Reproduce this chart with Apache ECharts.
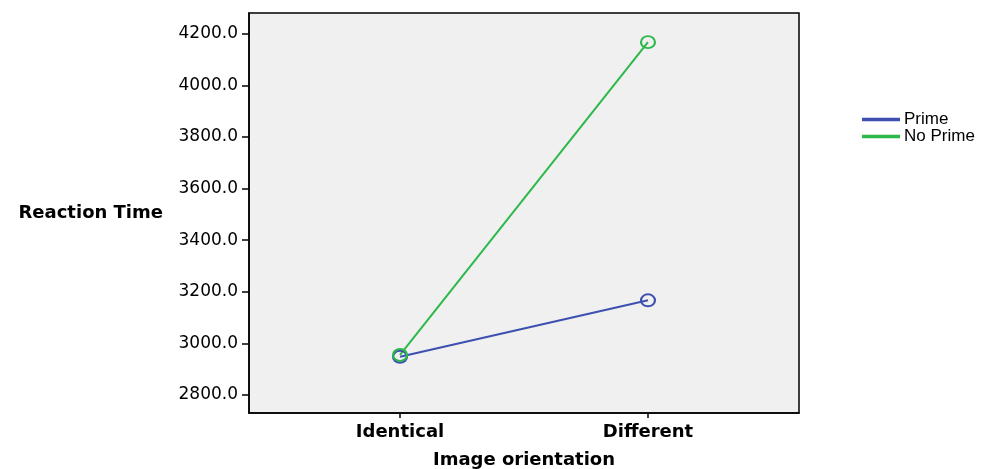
<!DOCTYPE html>
<html>
<head>
<meta charset="utf-8">
<script src="https://cdn.jsdelivr.net/npm/echarts@6/dist/echarts.min.js"></script>
<style>
  html, body { margin: 0; padding: 0; background: #fff; }
  #chart { width: 984px; height: 469px; }
</style>
</head>
<body>
<div id="chart"></div>
<script>
// categories on the x axis
const orientations = ['Identical', 'Different']
// mean reaction time per series
const primeData = [2948, 3167]
const noPrimeData = [2955, 4168]
// y tick labels
const yTicks = [2800, 3000, 3200, 3400, 3600, 3800, 4000, 4200]

const blue = '#3d50b0'
const green = '#2db84a'

const chart = echarts.init(document.getElementById('chart'))

const toPairs = arr => arr.map((v, i) => [i, v])

const option = {
  animation: false,
  grid: {
    left: 249, top: 13, right: 185, bottom: 56,
    outerBoundsMode: 'none',
    show: true,
    backgroundColor: '#f0f0f0',
    borderColor: '#000',
    borderWidth: 1.5
  },
  legend: {
    orient: 'vertical',
    left: 857,
    top: 106,
    itemWidth: 36,
    itemHeight: 1.5,
    itemGap: 0,
    textStyle: { fontFamily: 'Liberation Sans', fontSize: 17, lineHeight: 15, color: '#000' },
    data: [
      { name: 'Prime', icon: 'rect', itemStyle: { color: blue } },
      { name: 'No Prime', icon: 'rect', itemStyle: { color: green } }
    ]
  },
  xAxis: {
    type: 'value',
    min: -0.609,
    max: 1.609,
    name: 'Image orientation',
    nameLocation: 'middle',
    nameGap: 38,
    nameTextStyle: { fontFamily: 'DejaVu Sans', fontWeight: 'bold', fontSize: 18, color: '#000' },
    axisLine: { show: true, onZero: false, lineStyle: { color: '#000', width: 1.5 } },
    axisTick: { show: true, length: 5, customValues: [0, 1], lineStyle: { color: '#000', width: 1.5 } },
    axisLabel: {
      customValues: [0, 1],
      formatter: v => orientations[Math.round(v)],
      margin: 10,
      fontFamily: 'DejaVu Sans', fontWeight: 'bold', fontSize: 18, color: '#000'
    },
    splitLine: { show: false }
  },
  yAxis: {
    type: 'value',
    min: 2730,
    max: 4281,
    name: 'Reaction Time',
    nameLocation: 'middle',
    nameRotate: 0,
    nameGap: 86,
    nameTextStyle: { fontFamily: 'DejaVu Sans', fontWeight: 'bold', fontSize: 18, color: '#000' },
    axisLine: { show: true, onZero: false, lineStyle: { color: '#000', width: 1.5 } },
    axisTick: { show: true, length: 7, customValues: yTicks, lineStyle: { color: '#000', width: 1.5 } },
    axisLabel: {
      customValues: yTicks,
      formatter: v => v.toFixed(1),
      margin: 11,
      fontFamily: 'DejaVu Sans', fontSize: 17, color: '#000'
    },
    splitLine: { show: false }
  },
  series: [
    {
      name: 'Prime',
      type: 'line',
      data: toPairs(primeData),
      lineStyle: { width: 2, color: blue },
      symbol: 'circle',
      symbolSize: [14, 12],
      itemStyle: { color: 'transparent', borderColor: blue, borderWidth: 2 }
    },
    {
      name: 'No Prime',
      type: 'line',
      data: toPairs(noPrimeData),
      lineStyle: { width: 2, color: green },
      symbol: 'circle',
      symbolSize: [14, 12],
      itemStyle: { color: 'transparent', borderColor: green, borderWidth: 2 }
    }
  ]
}

chart.setOption(option)
</script>
</body>
</html>
